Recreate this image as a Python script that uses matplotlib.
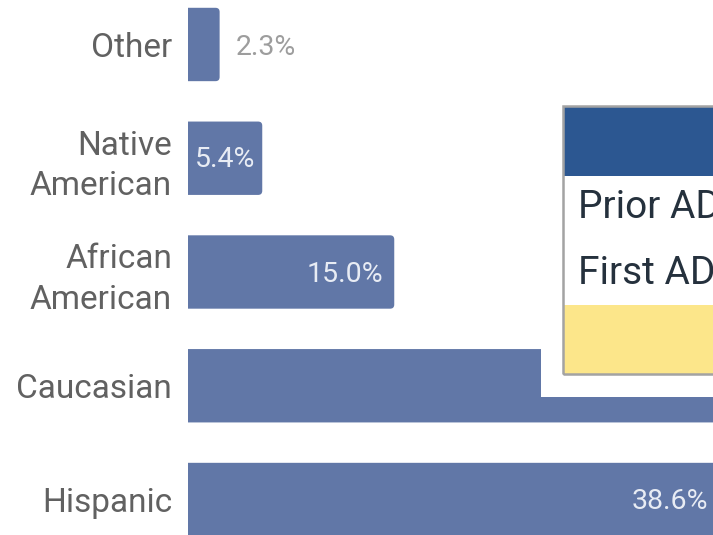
import matplotlib
matplotlib.use("Agg")
import matplotlib.pyplot as plt
from matplotlib.patches import Rectangle, FancyBboxPatch

# data
categories = ['Other', 'Native\nAmerican', 'African\nAmerican', 'Caucasian', 'Hispanic']
pct = [2.3, 5.4, 15.0, 38.7, 38.6]

W, H = 713, 535
bar_col = '#6177a7'
px_per_pct = 13.75

plt.rcParams['font.family'] = ['Roboto', 'DejaVu Sans']

fig = plt.figure(figsize=(W / 100, H / 100), dpi=100)
fig.patch.set_facecolor('white')

ax = fig.add_axes([188 / W, 0, 1 - 188 / W, 1])
ypos = list(range(len(categories)))
bars = ax.barh(ypos, pct, height=0.645, color=bar_col, zorder=2)
ax.set_xlim(0, 525 / px_per_pct)
ax.set_ylim(4.312, -0.391)

# rounded right ends: swap each bar for a rounded box of the same size
aspect = px_per_pct / 113.75
for b in bars:
    x0, y0, w, h = b.get_x(), b.get_y(), b.get_width(), b.get_height()
    rb = FancyBboxPatch((x0 - 1, y0), w + 1, h,
                        boxstyle='round,pad=0,rounding_size=0.3',
                        mutation_aspect=aspect, facecolor=bar_col,
                        edgecolor='none', zorder=2)
    b.remove()
    ax.add_patch(rb)

ax.set_yticks(ypos, categories, fontsize=24, color='#616161', linespacing=1.33)
ax.tick_params(axis='y', length=0, pad=11.5)
ax.set_xticks([])
for s in ax.spines.values():
    s.set_visible(False)

for y, v in zip(ypos, pct):
    txt = f'{v:.1f}%'
    if v < 4:
        ax.annotate(txt, (v, y), xytext=(11.5, -2.5), textcoords='offset points',
                    ha='left', va='center', fontsize=20.5, color='#9d9d9d')
    elif v < 10:
        ax.annotate(txt, (v / 2, y), xytext=(0, -1), textcoords='offset points',
                    ha='center', va='center', fontsize=20.5, color='#e8ecf4')
    else:
        ax.annotate(txt, (v, y), xytext=(-8, -1.5), textcoords='offset points',
                    ha='right', va='center', fontsize=20.5, color='#e8ecf4',
                    annotation_clip=False)


def fx(x):
    return x / W


def fy(y):
    return 1 - y / H


def box(x0, y0, x1, y1, **kw):
    r = Rectangle((fx(x0), fy(y1)), fx(x1) - fx(x0), fy(y0) - fy(y1),
                  transform=fig.transFigure, **kw)
    fig.add_artist(r)
    return r


# popup overlay partly covering the chart
box(541, 90, 720, 397, facecolor='white', edgecolor='none', zorder=5)
box(563, 106, 720, 176, facecolor='#2c5791', edgecolor='none', zorder=6)
box(563, 176, 720, 305, facecolor='white', edgecolor='none', zorder=6)
box(563, 305, 720, 374, facecolor='#fce68a', edgecolor='none', zorder=6)
box(563, 106, 720, 374, facecolor='none', edgecolor='#a3a3a3', lw=1.8, zorder=7)

fig.text(fx(578), fy(208), 'Prior ADC', fontsize=28,
         color='#25313d', va='center', ha='left', zorder=8)
fig.text(fx(578), fy(274), 'First ADC', fontsize=28,
         color='#25313d', va='center', ha='left', zorder=8)

fig.savefig('out.png', dpi=100)
